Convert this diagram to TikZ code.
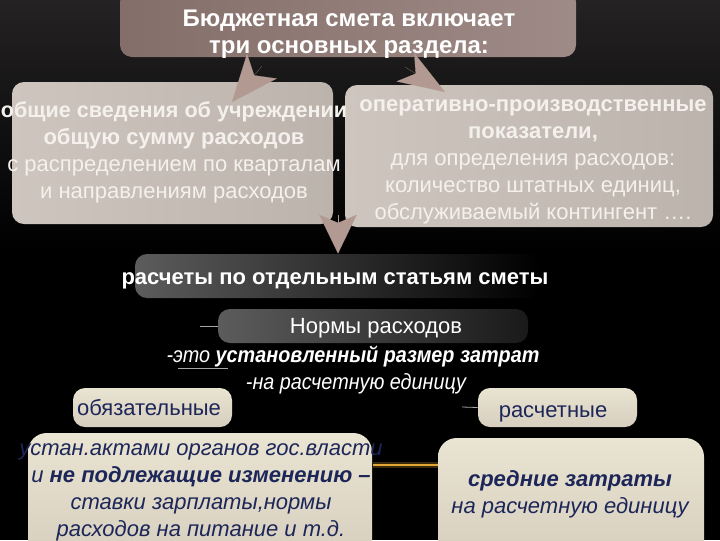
\documentclass[tikz,border=0pt]{standalone}
\usepackage{fontspec}
\setmainfont{Liberation Sans}
\newfontfamily\narrowfont[FakeStretch=0.9]{Liberation Sans}
\usetikzlibrary{arrows.meta,fit}

\definecolor{bgtop}{RGB}{36,34,34}
\definecolor{topboxl}{RGB}{132,110,106}
\definecolor{topboxr}{RGB}{158,138,134}
\definecolor{greyl}{RGB}{206,198,190}
\definecolor{greyr}{RGB}{188,180,172}
\definecolor{arrowc}{RGB}{178,154,146}
\definecolor{darkl}{RGB}{92,92,92}
\definecolor{beigel}{RGB}{234,228,210}
\definecolor{beiged}{RGB}{214,206,190}
\definecolor{navy}{RGB}{28,38,88}
\definecolor{gold}{RGB}{226,166,52}
\definecolor{paletxt}{RGB}{244,240,236}

\tikzset{every picture/.style={line width=0.75pt}}
\tikzset{
  panel/.style={rounded corners=9, inner sep=0pt, draw=none},
  txt/.style={inner sep=0.75pt, align=center, font=\fontsize{16.5}{20.3}\selectfont},
  bigarrow/.style={draw=arrowc, line width=0.1pt,
    -{Stealth[length=35pt, width=29pt, inset=9pt]}},
  thinline/.style={draw=gray!70, line width=0.6pt},
}

\begin{document}
\begin{tikzpicture}[x=0.75pt,y=0.75pt,yscale=-1,xscale=1]
		\useasboundingbox (0,0) rectangle (720,540);
		\clip (0,0) rectangle (720,540);
		%background
		\fill[black] (0,0) rectangle (720,540);
		\fill[top color=bgtop, bottom color=black] (0,0) rectangle (720,250);
		
		%boxes
		\node[panel, left color=topboxl, right color=topboxr, fit={(120,-10) (576,57)}] (top) {};
		\node[panel, left color=greyl, right color=greyr, fit={(12,82) (333,224)}] (general) {};
		\node[panel, left color=greyl, right color=greyr, fit={(345,85) (713,227)}] (operative) {};
		\node[panel, left color=darkl, right color=black, fit={(135,254) (540,298)}] (calc) {};
		\node[panel, left color=darkl, right color=black!90, fit={(218,309) (528,343)}] (norms) {};
		\node[panel, top color=beigel, bottom color=beiged, fit={(73,388) (232,427)}] (mandatory) {};
		\node[panel, top color=beigel, bottom color=beiged, fit={(478,388) (637,427)}] (estimated) {};
		\node[panel, rounded corners=14, top color=beigel, bottom color=beiged, fit={(28,433) (372,560)}] (mandesc) {};
		\node[panel, rounded corners=14, top color=beigel, bottom color=beiged, fit={(438,438) (704,560)}] (estdesc) {};
		
		%arrows
		\coordinate (t1) at (262,66);
		\coordinate (h1) at (232,102);
		\coordinate (t2) at (405,67);
		\coordinate (h2) at (445,92);
		\coordinate (split) at (338,215);
		\draw[bigarrow] (t1) -- (h1);
		\draw[bigarrow, -{Stealth[length=35pt, width=25pt, inset=9pt]}] (t2) -- (h2);
		\draw[bigarrow, -{Stealth[length=29pt, width=28pt, inset=6pt]}] (split) -- (calc.north -| split);
		
		%small lines
		\coordinate (nl) at (200,326);
		\coordinate (el) at (462,407);
		\draw[thinline] (nl) -- (norms.west);
		\draw[thinline] (el) -- (estimated.west);
		\draw[thinline] (178,368) -- (228,368);
		
		%glow
		\draw[gold, line width=5pt, opacity=0.25] (373,465) -- (438,465);
		\draw[gold, line width=1.8pt] (373,465) -- (438,465);
		
		%texts
		\node[txt, text=white, font=\fontsize{18}{20.3}\selectfont\bfseries] (toptxt) at (349,34) {Бюджетная смета включает\\три основных раздела:};
		\node[txt, text=paletxt] (gentxt) at (174,152) {\fontsize{16.2}{20.3}\selectfont\textbf{общие сведения об учреждении}\\\textbf{общую сумму расходов}\\с распределением по кварталам\\и направлениям расходов};
		\node[txt, text=paletxt] (optxt) at (533,162) {\textbf{оперативно-производственные}\\\textbf{показатели,}\\для определения расходов:\\количество штатных единиц,\\обслуживаемый контингент ….};
		\node[txt, text=white, font=\fontsize{16.5}{20.3}\selectfont\bfseries] (calctxt) at (335,281) {расчеты по отдельным статьям сметы};
		\node[txt, text=white] (normtxt) at (376,328) {Нормы расходов};
		\node[txt, text=white, font=\narrowfont\fontsize{16.5}{20.3}\selectfont\itshape] (deftxt) at (353,357) {-это \textbf{установленный размер затрат}};
		\node[txt, text=white, font=\narrowfont\fontsize{16.5}{20.3}\selectfont\itshape] (unittxt) at (356,384) {-на расчетную единицу};
		\node[txt, text=navy] (mandtxt) at (149,408) {обязательные};
		\node[txt, text=navy] (esttxt) at (553,414) {расчетные};
		\node[txt, text=navy, font=\fontsize{16.5}{20.3}\selectfont\itshape] (mdtxt) at (201,492) {устан.актами органов гос.власти\\и \textbf{не подлежащие изменению –}\\ставки зарплаты,нормы\\расходов на питание и т.д.};
		\node[txt, text=navy, font=\fontsize{16.5}{20.3}\selectfont\itshape] (edtxt) at (570,494) {\textbf{средние затраты}\\на расчетную единицу};
		
	\end{tikzpicture}
\end{document}
